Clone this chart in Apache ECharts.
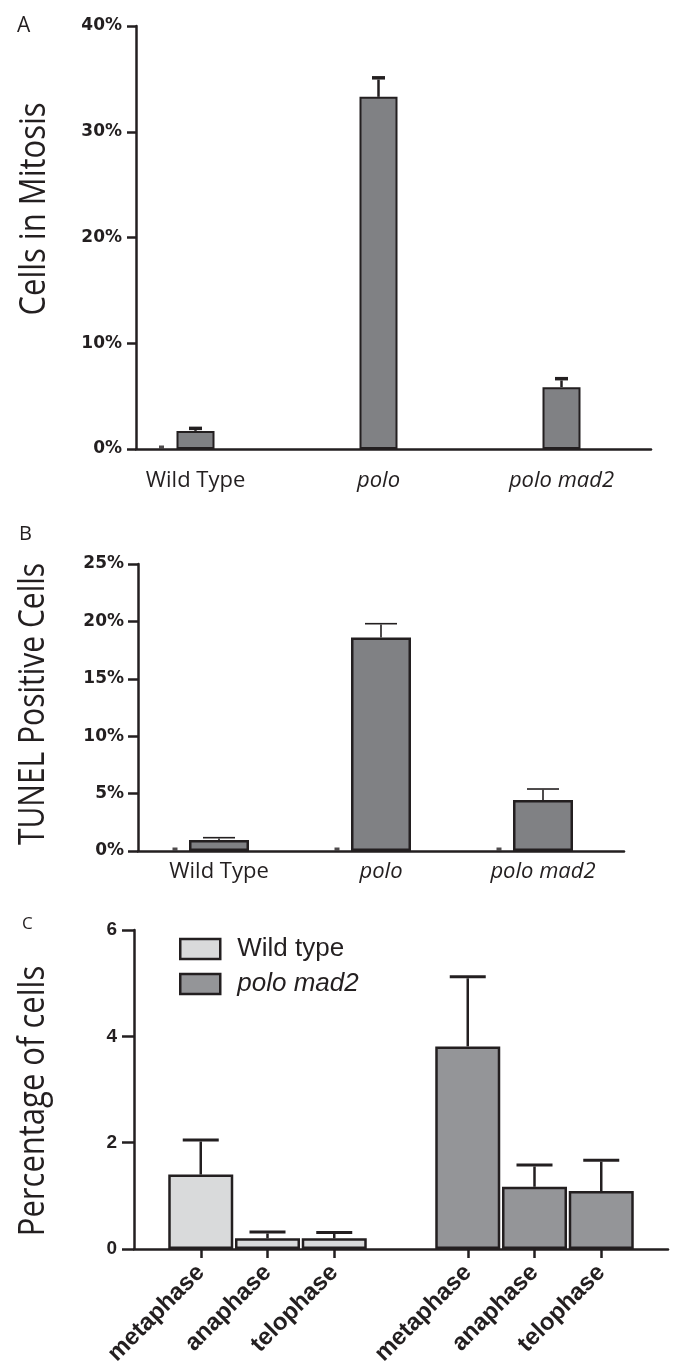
<!DOCTYPE html>
<html>
<head>
<meta charset="utf-8">
<script src="https://cdn.jsdelivr.net/npm/echarts@6/dist/echarts.min.js"></script>
<style>
html,body{margin:0;padding:0;background:#fff;}
#chart{width:676px;height:1369px;}
</style>
</head>
<body>
<div id="chart"></div>
<script>
// ---------------- data ----------------
const groups = ['Wild Type', 'polo', 'polo mad2'];
// Panel A: cells in mitosis (%)
const mitosisMean = [1.7, 33.3, 5.85];
const mitosisErr = [0.25, 1.8, 0.8];
const mitosisZero = [0, null, null];
const mitosisTicks = [0, 10, 20, 30, 40];
// Panel B: TUNEL positive cells (%)
const tunelMean = [0.96, 18.6, 4.45];
const tunelErr = [0.2, 1.2, 0.95];
const tunelZero = [0, 0, 0];
const tunelTicks = [0, 5, 10, 15, 20, 25];
// Panel C: percentage of cells by phase
const phases = ['metaphase', 'anaphase', 'telophase'];
const wtPhaseMean = [1.40, 0.20, 0.20];
const wtPhaseErr = [0.65, 0.12, 0.11];
const pmPhaseMean = [3.81, 1.17, 1.09];
const pmPhaseErr = [1.31, 0.41, 0.58];
const phaseTicks = [0, 2, 4, 6];

// ---------------- helpers ----------------
const INK = '#231f20';
const italicCat = v => (v === 'Wild Type' ? { value: v } : { value: v, textStyle: { fontStyle: 'italic' } });

function errRender(capW, capT, stemW) {
  return function (params, api) {
    const x = api.value(0), m = api.value(1), e = api.value(2);
    const p0 = api.coord([x, m]);
    const p1 = api.coord([x, m + e]);
    return {
      type: 'group',
      children: [
        { type: 'line', shape: { x1: p0[0], y1: p0[1], x2: p1[0], y2: p1[1] + capT / 2 }, style: { stroke: INK, lineWidth: stemW } },
        { type: 'line', shape: { x1: p1[0] - capW / 2, y1: p1[1], x2: p1[0] + capW / 2, y2: p1[1] }, style: { stroke: INK, lineWidth: capT } }
      ]
    };
  };
}

const tickFont = { color: INK, fontFamily: 'DejaVu Sans', fontWeight: 'bold', fontSize: 17 };
const axisLineStyle = { show: true, lineStyle: { color: INK, width: 2.5 } };

const padCats = ['', ...phases, '', ...phases, ''];
const wtPadded = ['-', ...wtPhaseMean, '-', '-', '-', '-', '-'];
const pmPadded = ['-', '-', '-', '-', '-', ...pmPhaseMean, '-'];

const option = {
  animation: false,
  backgroundColor: '#fff',
  textStyle: { fontFamily: 'Open Sans' },
  grid: [
    { left: 136, right: 25, top: 26, bottom: 920, containLabel: false, outerBoundsMode: 'none' },   // 0: A axes
    { left: 104, right: 23, top: 26, bottom: 920, containLabel: false, outerBoundsMode: 'none' },   // 1: A bars
    { left: 138, right: 52, top: 564, bottom: 518, containLabel: false, outerBoundsMode: 'none' },  // 2: B
    { left: 134, right: 8, top: 930, bottom: 120, containLabel: false, outerBoundsMode: 'none' }    // 3: C
  ],
  xAxis: [
    { gridIndex: 0, type: 'value', min: 0, max: 1, axisLine: axisLineStyle, axisTick: { show: false }, axisLabel: { show: false }, splitLine: { show: false } },
    { gridIndex: 1, type: 'category', data: groups.map(italicCat), axisLine: { show: false }, axisTick: { show: false },
      axisLabel: { margin: 21, color: INK, fontFamily: 'Open Sans', fontSize: 22 }, splitLine: { show: false } },
    { gridIndex: 2, type: 'category', data: groups.map(italicCat), axisLine: axisLineStyle, axisTick: { show: false },
      axisLabel: { margin: 10, color: INK, fontFamily: 'Open Sans', fontSize: 22 }, splitLine: { show: false } },
    { gridIndex: 3, type: 'category', boundaryGap: false, data: padCats, axisLine: axisLineStyle,
      axisTick: { show: true, length: 9, lineStyle: { color: INK, width: 2.5 }, interval: (i, v) => v !== '' },
      axisLabel: { interval: 0, rotate: 45, margin: 20, color: INK, fontFamily: 'Liberation Sans', fontWeight: 'bold', fontSize: 24 },
      splitLine: { show: false } }
  ],
  yAxis: [
    { gridIndex: 0, type: 'value', min: mitosisTicks[0], max: mitosisTicks[mitosisTicks.length - 1], interval: mitosisTicks[1] - mitosisTicks[0],
      axisLine: axisLineStyle, axisTick: { show: true, length: 9, lineStyle: { color: INK, width: 2.5 } },
      axisLabel: Object.assign({ margin: 14, formatter: '{value}%' }, tickFont), splitLine: { show: false } },
    { gridIndex: 1, type: 'value', min: 0, max: 40, show: false, splitLine: { show: false } },
    { gridIndex: 2, type: 'value', min: tunelTicks[0], max: tunelTicks[tunelTicks.length - 1], interval: tunelTicks[1] - tunelTicks[0],
      axisLine: axisLineStyle, axisTick: { show: true, length: 10, lineStyle: { color: INK, width: 2.5 } },
      axisLabel: Object.assign({ margin: 14, formatter: '{value}%' }, tickFont), splitLine: { show: false } },
    { gridIndex: 3, type: 'value', min: phaseTicks[0], max: phaseTicks[phaseTicks.length - 1], interval: phaseTicks[1] - phaseTicks[0],
      axisLine: axisLineStyle, axisTick: { show: true, length: 12, lineStyle: { color: INK, width: 2.5 } },
      axisLabel: { margin: 17, color: INK, fontFamily: 'Liberation Sans', fontWeight: 'bold', fontSize: 19 }, splitLine: { show: false } }
  ],
  legend: {
    orient: 'vertical', left: 179, top: 936, padding: 0, icon: 'rect', itemWidth: 40, itemHeight: 20, itemGap: 9,
    itemStyle: { borderWidth: 2.5, borderColor: INK },
    textStyle: { color: INK, fontFamily: 'Liberation Sans', fontSize: 26, padding: [0, 0, 0, 12] },
    data: [{ name: 'Wild type' }, { name: 'polo mad2', textStyle: { fontStyle: 'italic' } }]
  },
  graphic: [
    { type: 'text', left: 17, top: 16, style: { text: 'A', font: '21px "Open Sans"', fill: INK } },
    { type: 'text', left: 19, top: 524, style: { text: 'B', font: '20px "Open Sans"', fill: INK } },
    { type: 'text', left: 22, top: 916, style: { text: 'C', font: '17px "Open Sans"', fill: INK } },
    { type: 'text', x: 34, y: 209, rotation: Math.PI / 2, scaleY: 1.2, style: { text: 'Cells in Mitosis', font: '31px "Open Sans"', fill: INK, textAlign: 'center', textVerticalAlign: 'middle' } },
    { type: 'text', x: 34, y: 704, rotation: Math.PI / 2, scaleY: 1.2, style: { text: 'TUNEL Positive Cells', font: '30px "Open Sans"', fill: INK, textAlign: 'center', textVerticalAlign: 'middle' } },
    { type: 'text', x: 33, y: 1101, rotation: Math.PI / 2, scaleY: 1.2, style: { text: 'Percentage of cells', font: '31px "Open Sans"', fill: INK, textAlign: 'center', textVerticalAlign: 'middle' } }
  ],
  series: [
    // Panel A
    { type: 'bar', name: 'mitosis', xAxisIndex: 1, yAxisIndex: 1, data: mitosisMean, barWidth: 38,
      itemStyle: { color: '#808184', borderColor: INK, borderWidth: 2 }, z: 2 },
    { type: 'scatter', xAxisIndex: 1, yAxisIndex: 1, data: mitosisZero, symbol: 'rect', symbolSize: [5, 3], symbolOffset: [-34, -2],
      itemStyle: { color: INK }, z: 5 },
    { type: 'custom', xAxisIndex: 1, yAxisIndex: 1, renderItem: errRender(13, 3.5, 2.5),
      data: mitosisMean.map((m, i) => [i, m, mitosisErr[i]]), z: 3 },
    // Panel B
    { type: 'bar', name: 'tunel', xAxisIndex: 2, yAxisIndex: 2, data: tunelMean, barWidth: 60,
      itemStyle: { color: '#808184', borderColor: INK, borderWidth: 2.5 }, z: 2 },
    { type: 'scatter', xAxisIndex: 2, yAxisIndex: 2, data: tunelZero, symbol: 'rect', symbolSize: [5, 3], symbolOffset: [-44, -2],
      itemStyle: { color: INK }, z: 5 },
    { type: 'custom', xAxisIndex: 2, yAxisIndex: 2, renderItem: errRender(32, 1.6, 1.6),
      data: tunelMean.map((m, i) => [i, m, tunelErr[i]]), z: 3 },
    // Panel C
    { type: 'bar', name: 'Wild type', xAxisIndex: 3, yAxisIndex: 3, data: wtPadded, barWidth: 65, barGap: '-100%',
      itemStyle: { color: '#d9dadb', borderColor: INK, borderWidth: 2.5 }, z: 2 },
    { type: 'bar', name: 'polo mad2', xAxisIndex: 3, yAxisIndex: 3, data: pmPadded, barWidth: 65, barGap: '-100%',
      itemStyle: { color: '#949598', borderColor: INK, borderWidth: 2.5 }, z: 2 },
    { type: 'custom', xAxisIndex: 3, yAxisIndex: 3, renderItem: errRender(36, 3, 2.5),
      data: wtPhaseMean.map((m, i) => [i + 1, m, wtPhaseErr[i]]).concat(pmPhaseMean.map((m, i) => [i + 5, m, pmPhaseErr[i]])), z: 3 }
  ]
};

const chart = echarts.init(document.getElementById('chart'), null, { renderer: 'canvas' });
chart.setOption(option);
</script>
</body>
</html>
